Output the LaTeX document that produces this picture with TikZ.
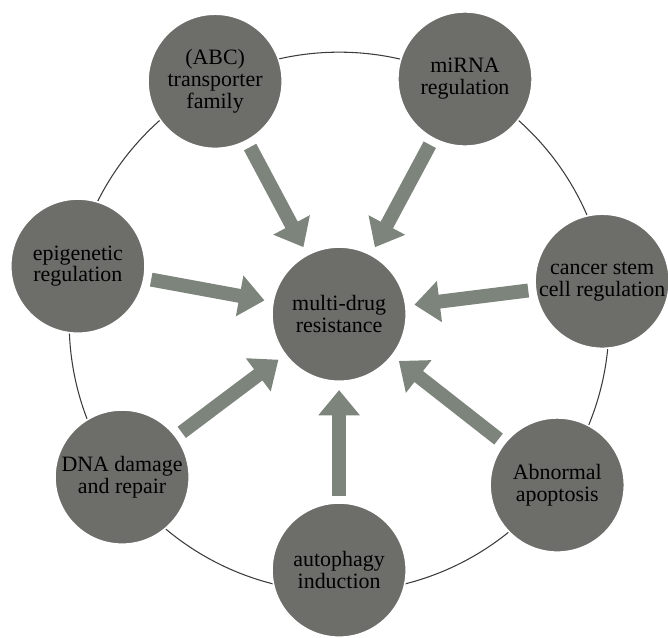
\documentclass[tikz,border=0pt]{standalone}
\usepackage{fontspec}
\setmainfont{Liberation Serif}
\usetikzlibrary{arrows.meta}
\definecolor{discgray}{RGB}{109,109,105}
\definecolor{arrowgray}{RGB}{124,132,124}
\definecolor{ringgray}{RGB}{60,60,60}
\tikzset{
  disc/.style={circle,fill=discgray,draw=white,line width=1.2pt,minimum size=3.55cm,inner sep=0pt,align=center,font=\fontsize{16.5}{16.5}\selectfont},
  bigarrow/.style={draw=arrowgray,line width=10.5pt,-{Triangle[width=30pt,length=19pt]},shorten <=5pt,shorten >=6pt}
}
\begin{document}
\begin{tikzpicture}
            \useasboundingbox (-8.97,-8.55) rectangle (8.70,8.31);
            \draw[ringgray,line width=0.8pt] (0,-0.21) circle (7.14);
            \node[disc] (mdr) at (0,0) {multi-drug\\resistance};
            \node[disc] (abc) at (-3.28,6.16) {(ABC)\\transporter\\family};
            \node[disc] (mirna) at (3.33,6.22) {miRNA\\regulation};
            \node[disc] (stem) at (6.96,0.87) {cancer stem\\cell regulation};
            \node[disc] (apop) at (5.77,-4.52) {Abnormal\\apoptosis};
            \node[disc] (auto) at (0,-6.77) {autophagy\\induction};
            \node[disc] (dna) at (-5.74,-4.31) {DNA damage\\and repair};
            \node[disc] (epi) at (-6.91,1.27) {epigenetic\\regulation};
            \draw[bigarrow] (abc) -- (mdr);
            \draw[bigarrow] (mirna) -- (mdr);
            \draw[bigarrow] (stem) -- (mdr);
            \draw[bigarrow] (apop) -- (mdr);
            \draw[bigarrow] (auto) -- (mdr);
            \draw[bigarrow] (dna) -- (mdr);
            \draw[bigarrow] (epi) -- (mdr);
\end{tikzpicture}
\end{document}
